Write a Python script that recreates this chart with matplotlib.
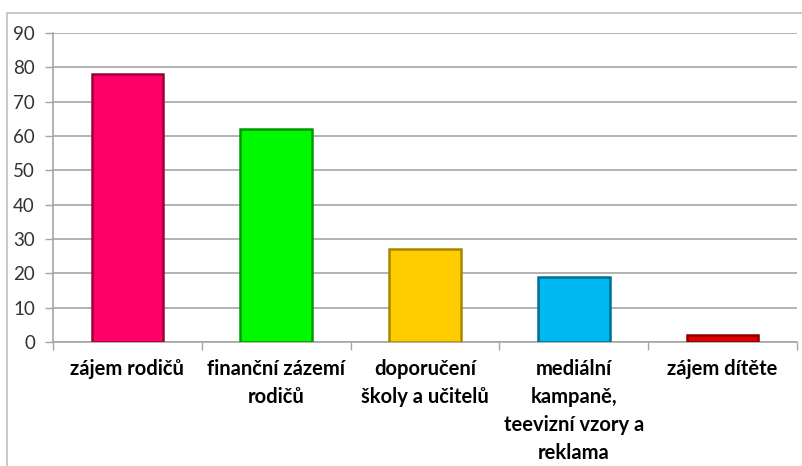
import numpy as np
import matplotlib.pyplot as plt
from matplotlib.patches import Rectangle

categories = ['zájem rodičů', 'finanční zázemí\nrodičů', 'doporučení\nškoly a učitelů',
              'mediální\nkampaně,\nteevizní vzory a\nreklama', 'zájem dítěte']
values = [78, 62, 27, 19, 2]
colors = ['#ff0066', '#00f800', '#ffcc00', '#00b8f0', '#e00000']
edges = ['#a0003f', '#009a00', '#a88600', '#006f94', '#8a0000']

plt.rcParams['font.family'] = ['Lato', 'DejaVu Sans']

fig = plt.figure(figsize=(8.03, 4.66), dpi=100)
fig.patches.append(Rectangle((7 / 803, -0.1), 1.2, 1 - 13 / 466 + 0.1,
                             transform=fig.transFigure, fill=False,
                             edgecolor='#bfbfbf', linewidth=1.2))

ax = fig.add_axes([53 / 803, 1 - 342 / 466, (797 - 53) / 803, (342 - 33) / 466])
x = np.arange(len(categories))
ax.bar(x, values, width=0.48, color=colors, edgecolor=edges, linewidth=1.8, zorder=3)

ax.set_xlim(-0.5, len(categories) - 0.5)
ax.set_ylim(0, 90)
ax.set_yticks(range(0, 91, 10))
ax.yaxis.grid(True, color='#a6a6a6', linewidth=1.2, zorder=0)

ax.set_xticks(x)
ax.set_xticklabels(categories, fontsize=14.5, fontweight='bold', linespacing=1.5, va='top')
ax.tick_params(axis='x', length=0, pad=12)
ax.set_xticks(np.arange(-0.5, len(categories)), minor=True)
ax.tick_params(axis='x', which='minor', length=6, color='#a6a6a6', width=1)
ax.tick_params(axis='y', length=6, color='#a6a6a6', width=1, labelsize=13.5, labelcolor='#333333', pad=7)

for side in ['top', 'right']:
    ax.spines[side].set_visible(False)
for side in ['left', 'bottom']:
    ax.spines[side].set_color('#a6a6a6')
    ax.spines[side].set_linewidth(1.2)

fig.savefig('out.png', dpi=100)
